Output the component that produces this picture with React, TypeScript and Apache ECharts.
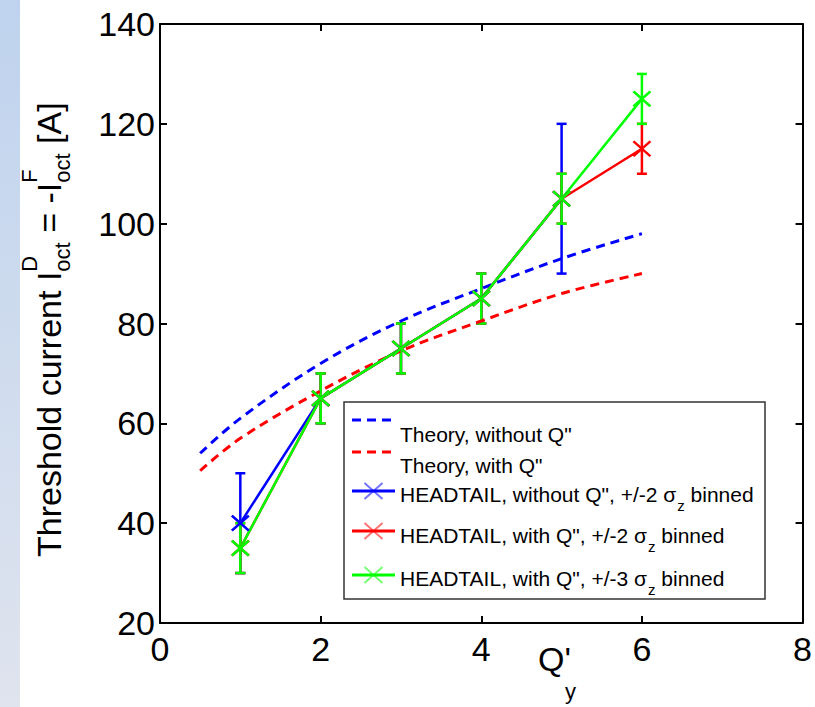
import React, { useEffect, useRef } from 'react';
import * as echarts from 'echarts';

// ---- data ----
const theoryQ = [0.5, 1, 2, 3, 4, 5, 6];
const theoryWithoutQpp = [54, 61, 72, 80.5, 87, 93, 98];
const theoryWithQpp = [50.5, 57, 66.5, 74.5, 80.5, 86, 90];

const htQ = [1, 2, 3, 4, 5, 6];
const htBlueQ = [1, 2, 3, 4, 5];
const htBlue = [40, 65, 75, 85, 105];
const htBlueErr = [10, 5, 5, 5, 15];
const htRed = [35, 65, 75, 85, 105, 115];
const htRedErr = [5, 5, 5, 5, 5, 5];
const htGreen = [35, 65, 75, 85, 105, 125];
const htGreenErr = [5, 5, 5, 5, 5, 5];

const xTicks = { min: 0, max: 8, interval: 2 };
const yTicks = { min: 20, max: 140, interval: 20 };

const legendLabels = [
  'Theory, without Q"',
  'Theory, with Q"',
  'HEADTAIL, without Q", +/-2 ',
  'HEADTAIL, with Q", +/-2 ',
  'HEADTAIL, with Q", +/-3 ',
];

const FONT = '"Liberation Sans", Arial, Helvetica, sans-serif';
const BLUE = '#0000ff';
const RED = '#ff0000';
const GREEN = '#00ff00';
const CROSS = 'path://M0,0L16,14M16,0L0,14';

let measureCtx: CanvasRenderingContext2D | null = null;
function measure(text: string, size: number): number {
  if (!measureCtx) measureCtx = document.createElement('canvas').getContext('2d');
  if (!measureCtx) return text.length * size * 0.55;
  measureCtx.font = `${size}px ${FONT}`;
  return measureCtx.measureText(text).width;
}

// middle y for a given baseline (Liberation Sans em-box center)
const mid = (baseline: number, size: number) => baseline - 0.3465 * size;

function txt(text: string, x: number, baseline: number, size: number, extra: any = {}) {
  return {
    type: 'text',
    x,
    y: mid(baseline, size),
    silent: true,
    style: {
      text,
      fill: '#000',
      font: `${size}px ${FONT}`,
      align: 'left',
      verticalAlign: 'middle',
      ...extra,
    },
  };
}

function errSeries(xs: number[], ys: number[], errs: number[], color: string) {
  return {
    type: 'custom',
    xAxisIndex: 0,
    yAxisIndex: 0,
    silent: true,
    encode: { x: 0, y: [1, 2] },
    data: xs.map((x, i) => [x, ys[i] - errs[i], ys[i] + errs[i]]),
    renderItem: (_p: any, api: any) => {
      const x = api.value(0);
      const lo = api.coord([x, api.value(1)]);
      const hi = api.coord([x, api.value(2)]);
      const hw = 5;
      const st = { stroke: color, lineWidth: 2.5 };
      return {
        type: 'group',
        children: [
          { type: 'line', shape: { x1: lo[0], y1: lo[1], x2: hi[0], y2: hi[1] }, style: st },
          { type: 'line', shape: { x1: lo[0] - hw, y1: lo[1], x2: lo[0] + hw, y2: lo[1] }, style: st },
          { type: 'line', shape: { x1: hi[0] - hw, y1: hi[1], x2: hi[0] + hw, y2: hi[1] }, style: st },
        ],
      };
    },
  };
}

function lineSeries(name: string, xs: number[], ys: number[], color: string) {
  return {
    type: 'line',
    name,
    xAxisIndex: 0,
    yAxisIndex: 0,
    data: xs.map((x, i) => [x, ys[i]]),
    symbol: CROSS,
    symbolSize: [17, 15],
    showSymbol: true,
    itemStyle: { color, borderColor: color, borderWidth: 2.5 },
    lineStyle: { color, width: 2.5 },
    silent: true,
  };
}

function theorySeries(name: string, ys: number[], color: string) {
  return {
    type: 'line',
    name,
    xAxisIndex: 0,
    yAxisIndex: 0,
    data: theoryQ.map((x, i) => [x, ys[i]]),
    smooth: 0.35,
    showSymbol: false,
    symbol: 'none',
    lineStyle: { color, width: 3, type: [9, 6] },
    silent: true,
  };
}

function buildGraphics() {
  const g: any[] = [];
  // left decorative strip
  g.push({
    type: 'rect',
    shape: { x: 0, y: 0, width: 20, height: 707 },
    silent: true,
    style: {
      fill: new echarts.graphic.LinearGradient(0, 0, 0, 1, [
        { offset: 0, color: '#bfd3ee' },
        { offset: 1, color: '#dfe4ee' },
      ]),
    },
  });

  // y-axis title, rotated, with sub/superscripts
  const S = 34;
  const s = 22;
  const parts: any[] = [];
  let pos = 0;
  const mainA = 'Threshold current I';
  parts.push(txt(mainA, pos, 0, S));
  pos += measure(mainA, S);
  parts.push(txt('D', pos, -24, s));
  parts.push(txt('oct', pos, 9, s));
  pos += Math.max(measure('D', s), measure('oct', s));
  const mainB = ' = -I';
  parts.push(txt(mainB, pos, 0, S));
  pos += measure(mainB, S);
  parts.push(txt('F', pos, -24, s));
  parts.push(txt('oct', pos, 9, s));
  pos += Math.max(measure('F', s), measure('oct', s));
  parts.push(txt(' [A]', pos, 0, S));
  g.push({
    type: 'group',
    x: 61,
    y: 557,
    rotation: Math.PI / 2,
    silent: true,
    children: parts,
  });

  // x-axis title Q'_y
  g.push(txt("Q'", 538, 671, 34));
  g.push(txt('y', 565, 699, 22));

  // legend box
  const lx = 344;
  const ly = 402;
  g.push({
    type: 'rect',
    shape: { x: lx, y: ly, width: 421, height: 197 },
    silent: true,
    style: { fill: '#fff', stroke: '#333', lineWidth: 1.5 },
  });
  const sx1 = 352;
  const sx2 = 395;
  const tx = 400;
  const LS = 21;
  // theory entries
  const theoryEntries = [
    { color: BLUE, ly: 420, tb: 442, label: legendLabels[0] },
    { color: RED, ly: 452, tb: 473, label: legendLabels[1] },
  ];
  theoryEntries.forEach((e) => {
    g.push({
      type: 'line',
      silent: true,
      shape: { x1: sx1, y1: e.ly, x2: sx2, y2: e.ly },
      style: { stroke: e.color, lineWidth: 3, lineDash: [9, 6] },
    });
    g.push(txt(e.label, tx, e.tb, LS));
  });
  const htEntries = [
    { color: BLUE, ly: 491, tb: 502, label: legendLabels[2] },
    { color: RED, ly: 531, tb: 543, label: legendLabels[3] },
    { color: GREEN, ly: 575, tb: 586, label: legendLabels[4] },
  ];
  htEntries.forEach((e) => {
    g.push({
      type: 'line',
      silent: true,
      shape: { x1: sx1, y1: e.ly, x2: sx2, y2: e.ly },
      style: { stroke: e.color, lineWidth: 3 },
    });
    const cx = (sx1 + sx2) / 2;
    g.push({
      type: 'polyline',
      silent: true,
      shape: { points: [[cx - 9, e.ly - 8], [cx + 9, e.ly + 8]] },
      style: { stroke: e.color, lineWidth: 2, opacity: 0.55 },
    });
    g.push({
      type: 'polyline',
      silent: true,
      shape: { points: [[cx + 9, e.ly - 8], [cx - 9, e.ly + 8]] },
      style: { stroke: e.color, lineWidth: 2, opacity: 0.55 },
    });
    let p = tx;
    g.push(txt(e.label, p, e.tb, LS));
    p += measure(e.label, LS);
    g.push(txt('σ', p, e.tb, LS));
    p += measure('σ', LS) + 1;
    g.push(txt('z', p, e.tb + 9, 15));
    p += measure('z', 15);
    g.push(txt(' binned', p, e.tb, LS));
  });
  return g;
}

export default function App() {
  const ref = useRef<HTMLDivElement>(null);
  useEffect(() => {
    if (!ref.current) return;
    const chart = echarts.init(ref.current, undefined, { renderer: 'svg' });
    const axisLine = { show: true, onZero: false, lineStyle: { color: '#000', width: 2 } };
    const axisTick = { show: true, inside: true, length: 7, lineStyle: { color: '#000', width: 2 } };
    const labelStyle = { color: '#000', fontSize: 34, fontFamily: FONT };
    chart.setOption({
      animation: false,
      backgroundColor: '#fff',
      grid: { left: 160, right: 11, top: 24, bottom: 84, containLabel: false },
      xAxis: [
        {
          type: 'value',
          position: 'bottom',
          ...xTicks,
          axisLine,
          axisTick,
          axisLabel: { ...labelStyle, margin: 9 },
          splitLine: { show: false },
        },
        {
          type: 'value',
          position: 'top',
          ...xTicks,
          axisLine,
          axisTick,
          axisLabel: { show: false },
          splitLine: { show: false },
        },
      ],
      yAxis: [
        {
          type: 'value',
          position: 'left',
          ...yTicks,
          axisLine,
          axisTick,
          axisLabel: { ...labelStyle, margin: 5 },
          splitLine: { show: false },
        },
        {
          type: 'value',
          position: 'right',
          ...yTicks,
          axisLine,
          axisTick,
          axisLabel: { show: false },
          splitLine: { show: false },
        },
      ],
      series: [
        theorySeries('Theory, without Q"', theoryWithoutQpp, BLUE),
        theorySeries('Theory, with Q"', theoryWithQpp, RED),
        errSeries(htBlueQ, htBlue, htBlueErr, BLUE),
        lineSeries('HEADTAIL, without Q", +/-2 sigma_z binned', htBlueQ, htBlue, BLUE),
        errSeries(htQ, htRed, htRedErr, RED),
        lineSeries('HEADTAIL, with Q", +/-2 sigma_z binned', htQ, htRed, RED),
        errSeries(htQ, htGreen, htGreenErr, GREEN),
        lineSeries('HEADTAIL, with Q", +/-3 sigma_z binned', htQ, htGreen, GREEN),
      ],
      graphic: buildGraphics(),
    });
    return () => chart.dispose();
  }, []);
  return (
    <div
      ref={ref}
      style={{ position: 'absolute', left: 0, top: 0, width: 815, height: 707 }}
    />
  );
}
